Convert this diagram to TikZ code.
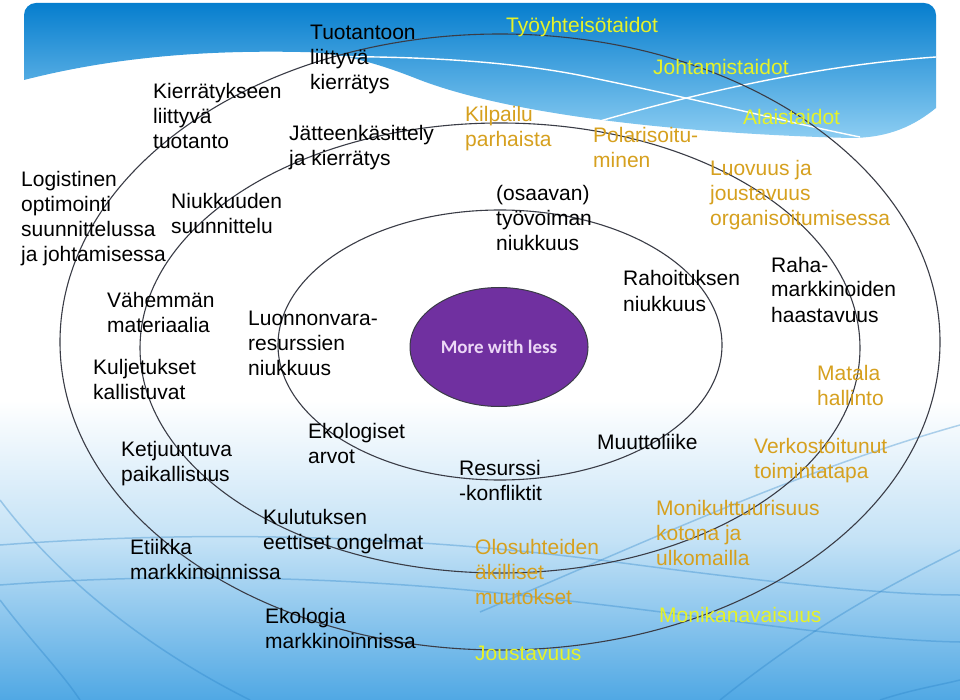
\documentclass[tikz,border=0pt]{standalone}
\usepackage{fontspec}
\setmainfont{Liberation Sans}
\newfontfamily\corefont{Carlito}
\usetikzlibrary{shapes.geometric}
\definecolor{ringgray}{RGB}{58,60,70}
\definecolor{goldtext}{RGB}{214,160,30}
\definecolor{yellowtext}{RGB}{230,242,40}
\definecolor{purplecore}{RGB}{112,48,160}
\definecolor{coretext}{RGB}{236,216,246}
\definecolor{banddark}{RGB}{6,126,206}
\definecolor{bandlight}{RGB}{140,205,242}
\definecolor{swirl}{RGB}{40,130,200}
\definecolor{floorblue}{RGB}{80,168,228}
\definecolor{floormid}{RGB}{196,226,246}

\begin{document}
\begin{tikzpicture}[x=1pt,y=-1pt,
  txt/.style={anchor=base west,align=left,inner sep=0pt,
              font=\fontsize{21}{25}\selectfont},
  blk/.style={txt,text=black},
  gold/.style={txt,text=goldtext},
  yel/.style={txt,text=yellowtext},
  ring/.style={draw=ringgray,line width=1.1pt},
  swirlline/.style={draw=swirl,line width=1.5pt,opacity=0.35},
  core/.style={ellipse,fill=purplecore,draw=ringgray,line width=1pt,
               minimum width=178pt,minimum height=119pt,inner sep=0pt,
               text=coretext,font=\corefont\bfseries\fontsize{19}{22}\selectfont}
]
\useasboundingbox (0,0) rectangle (960,700);
% background
\fill[white] (0,0) rectangle (960,700);
\shade[top color=white,bottom color=floormid] (0,400) rectangle (960,540);
\shade[top color=floormid,bottom color=floorblue] (0,540) rectangle (960,700);
% title band
\shade[top color=banddark,bottom color=bandlight]
  (24,80) -- (24,15) arc[start angle=180,end angle=90,radius=12pt] -- (924,3)
  arc[start angle=90,end angle=0,radius=12pt] -- (936,108)
  .. controls (915,125) and (890,138) .. (850,138)
  .. controls (700,134) and (520,118) .. (420,80)
  .. controls (380,64) and (340,52) .. (300,52)
  .. controls (200,50) and (110,58) .. (24,80) -- cycle;
\draw[white,line width=1.4pt] (300,57) .. controls (420,55) and (520,62) .. (593,78)
  .. controls (700,100) and (800,125) .. (860,137);
\draw[white,line width=1.4pt] (593,123) .. controls (700,92) and (820,65) .. (936,57);
% swirls
\draw[swirlline] (0,585) .. controls (200,570) and (400,580) .. (560,600)
  .. controls (700,615) and (850,640) .. (960,642);
\draw[swirlline] (0,545) .. controls (200,530) and (400,535) .. (600,560)
  .. controls (750,580) and (880,595) .. (960,595);
\draw[swirlline] (0,500) .. controls (60,580) and (150,650) .. (250,700);
\draw[swirlline] (0,600) .. controls (30,640) and (60,670) .. (80,700);
\draw[swirlline] (720,700) .. controls (820,620) and (900,580) .. (960,550);
\draw[swirlline] (880,700) .. controls (910,690) and (940,685) .. (960,680);
\draw[swirlline] (480,612) .. controls (650,540) and (800,470) .. (960,425);
% rings
\draw[ring] (500,345) ellipse [x radius=222pt,y radius=135pt];
\draw[ring] (500,348) ellipse [x radius=360pt,y radius=225pt];
\draw[ring] (500,342) ellipse [x radius=440pt,y radius=308pt];
\node[core] (core) at (499,347) {More with less};
% left side (base = last line)
\node[blk] (prodrecycle) at (310,90) {Tuotantoon\\liittyvä\\kierrätys};
\node[blk] (recycleprod) at (153,149) {Kierrätykseen\\liittyvä\\tuotanto};
\node[blk] (waste) at (289,166) {Jätteenkäsittely\\ja kierrätys};
\node[blk] (logistics) at (21,262) {Logistinen\\optimointi\\suunnittelussa\\ja johtamisessa};
\node[blk] (scarcityplan) at (171,234) {Niukkuuden\\suunnittelu};
\node[blk] (lessmaterial) at (107,332) {Vähemmän\\materiaalia};
\node[blk] (naturalres) at (248,375) {Luonnonvara-\\resurssien\\niukkuus};
\node[blk] (transport) at (93,399) {Kuljetukset\\kallistuvat};
\node[blk] (locality) at (121,481) {Ketjuuntuva\\paikallisuus};
\node[blk] (ecovalues) at (308,463) {Ekologiset\\arvot};
\node[blk] (consumption) at (263,549) {Kulutuksen\\eettiset ongelmat};
\node[blk] (ethics) at (130,579) {Etiikka\\markkinoinnissa};
\node[blk] (ecology) at (265,648) {Ekologia\\markkinoinnissa};
% right side
\node[yel] (teamwork) at (506,33) {Työyhteisötaidot};
\node[yel] (leadership) at (653,75) {Johtamistaidot};
\node[yel] (followership) at (743,125) {Alaistaidot};
\node[gold] (competition) at (465,147) {Kilpailu\\parhaista};
\node[gold] (polarisation) at (593,168) {Polarisoitu-\\minen};
\node[blk] (labour) at (496,251) {(osaavan)\\työvoiman\\niukkuus};
\node[gold] (creativity) at (710,226) {Luovuus ja\\joustavuus\\organisoitumisessa};
\node[blk] (funding) at (623,311) {Rahoituksen\\niukkuus};
\node[blk] (markets) at (771,322) {Raha-\\markkinoiden\\haastavuus};
\node[gold] (flat) at (817,405) {Matala\\hallinto};
\node[blk] (migration) at (597,449) {Muuttoliike};
\node[gold] (network) at (754,478) {Verkostoitunut\\toimintatapa};
\node[blk] (conflict) at (459,500) {Resurssi\\-konfliktit};
\node[gold] (multicultural) at (656,565) {Monikulttuurisuus\\kotona ja\\ulkomailla};
\node[gold] (sudden) at (475,604) {Olosuhteiden\\äkilliset\\muutokset};
\node[yel] (multichannel) at (659,622) {Monikanavaisuus};
\node[yel] (flexibility) at (475,660) {Joustavuus};
\end{tikzpicture}
\end{document}
